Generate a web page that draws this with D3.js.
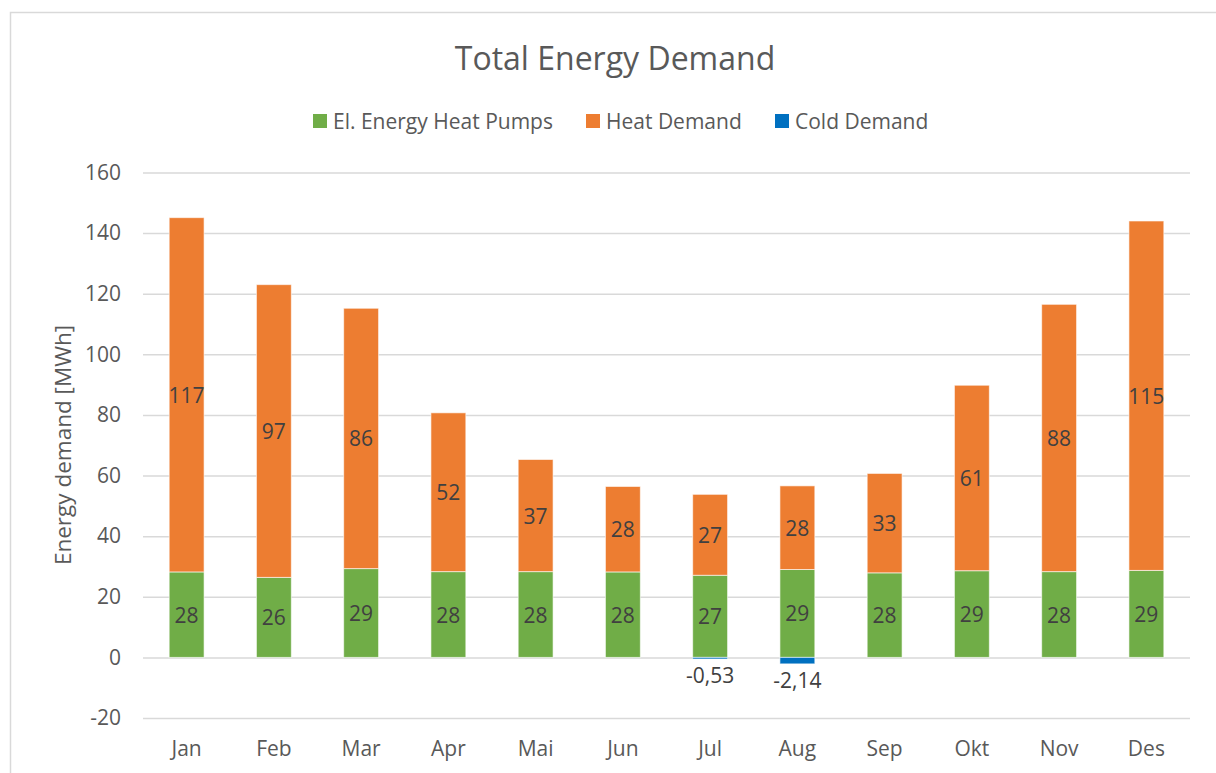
<!doctype html>
<html>
    <head>
        <meta charset="utf-8">
        <title>Total Energy Demand</title>
        <script src="https://d3js.org/d3.v7.min.js"></script>
        <style type="text/css">
            body { margin:0; background:#fff; }
            text { font-family:"Open Sans", sans-serif; }
        </style>
    </head>
    <body>
        <svg></svg>
        <script type="text/javascript">

            var w = 1216,
                h = 773;

            var months = ['Jan', 'Feb', 'Mar', 'Apr', 'Mai', 'Jun', 'Jul', 'Aug', 'Sep', 'Okt', 'Nov', 'Des'];
            var elEnergy = [28.2, 26.4, 29.3, 28.3, 28.3, 28.2, 27.1, 29.0, 27.9, 28.6, 28.3, 28.7];
            var heatDemand = [116.9, 96.6, 85.9, 52.4, 37.0, 28.2, 26.7, 27.6, 32.8, 61.2, 88.2, 115.3];
            var coldDemand = [0, 0, 0, 0, 0, 0, -0.53, -2.14, 0, 0, 0, 0];
            var yTicks = [-20, 0, 20, 40, 60, 80, 100, 120, 140, 160];

            var seriesNames = ['El. Energy Heat Pumps', 'Heat Demand', 'Cold Demand'];
            var keys = ['el', 'heat', 'cold'];
            var colors = { el: '#70AD47', heat: '#ED7D31', cold: '#0070C0' };

            var dataset = months.map(function(m, i) {
                return { month: m, el: elEnergy[i], heat: heatDemand[i], cold: coldDemand[i] };
            });

            var xScale = d3.scaleBand()
                .domain(months)
                .range([143, 1190])
                .paddingInner(0.6)
                .paddingOuter(0.3);

            var yScale = d3.scaleLinear()
                .domain([-20, 160])
                .range([718, 172.5]);

            var series = d3.stack()
                .keys(keys)
                .offset(d3.stackOffsetDiverging)(dataset);

            var svg = d3.select('svg')
                .attr('width', w)
                .attr('height', h);

            // chart frame
            svg.append('rect')
                .attr('x', 10.5)
                .attr('y', 12.5)
                .attr('width', 1240)
                .attr('height', 800)
                .attr('fill', '#fff')
                .attr('stroke', '#D9D9D9')
                .attr('stroke-width', 1.5);

            svg.append('text')
                .attr('x', 615)
                .attr('y', 57)
                .attr('text-anchor', 'middle')
                .attr('dominant-baseline', 'central')
                .attr('fill', '#595959')
                .style('font-size', '32px')
                .text('Total Energy Demand');

            // gridlines + y axis labels
            var yAxis = d3.axisLeft(yScale)
                .tickValues(yTicks)
                .tickSize(-(1190 - 143))
                .tickPadding(22)
                .tickFormat(function(d) { return d; });

            var gy = svg.append('g')
                .attr('transform', 'translate(143,0)')
                .call(yAxis);
            gy.select('.domain').remove();
            gy.selectAll('line').attr('stroke', '#D9D9D9').attr('stroke-width', 1.5);
            gy.selectAll('text')
                .attr('fill', '#595959')
                .style('font-family', '"Open Sans", sans-serif')
                .style('font-size', '21px');

            var xAxis = d3.axisBottom(xScale).tickSize(0).tickPadding(0);
            var gx = svg.append('g')
                .attr('transform', 'translate(0,749)')
                .call(xAxis);
            gx.select('.domain').remove();
            gx.selectAll('text')
                .attr('dy', '0.35em')
                .attr('fill', '#595959')
                .style('font-family', '"Open Sans", sans-serif')
                .style('font-size', '21px');

            svg.append('text')
                .attr('transform', 'translate(62,445) rotate(-90)')
                .attr('text-anchor', 'middle')
                .attr('dominant-baseline', 'central')
                .attr('fill', '#595959')
                .style('font-size', '22.5px')
                .text('Energy demand [MWh]');

            var groups = svg.selectAll('g.series')
                .data(series)
                .enter()
                .append('g')
                .attr('class', 'series')
                .attr('fill', function(d) { return colors[d.key]; });

            groups.selectAll('rect')
                .data(function(d) { return d; })
                .enter()
                .append('rect')
                .attr('x', function(d) { return xScale(d.data.month); })
                .attr('y', function(d) { return yScale(Math.max(d[0], d[1])); })
                .attr('height', function(d) { return Math.abs(yScale(d[0]) - yScale(d[1])); })
                .attr('width', xScale.bandwidth())
                .attr('stroke', 'rgba(255,255,255,0.6)')
                .attr('stroke-width', 1);

            // data labels
            groups.each(function(s) {
                var g = d3.select(this);
                s.forEach(function(d) {
                    var v = d.data[s.key];
                    if (v === 0) return;
                    var cx = xScale(d.data.month) + xScale.bandwidth() / 2;
                    var cy, txt;
                    if (s.key === 'cold') {
                        cy = yScale(v) + 16;
                        txt = v.toFixed(2).replace('.', ',');
                    } else {
                        cy = (yScale(d[0]) + yScale(d[1])) / 2;
                        txt = Math.round(v);
                    }
                    g.append('text')
                        .attr('x', cx)
                        .attr('y', cy)
                        .attr('text-anchor', 'middle')
                        .attr('dominant-baseline', 'central')
                        .attr('fill', '#404040')
                        .style('font-size', '21px')
                        .text(txt);
                });
            });

            // legend
            var legendX = [313, 586, 775];
            var legend = svg.append('g').attr('class', 'legend');
            keys.forEach(function(k, i) {
                legend.append('rect')
                    .attr('x', legendX[i])
                    .attr('y', 114)
                    .attr('width', 14)
                    .attr('height', 14)
                    .attr('fill', colors[k]);
                legend.append('text')
                    .attr('x', legendX[i] + 20)
                    .attr('y', 121)
                    .attr('dominant-baseline', 'central')
                    .attr('fill', '#595959')
                    .style('font-size', '21px')
                    .text(seriesNames[i]);
            });
        </script>
    </body>
</html>
